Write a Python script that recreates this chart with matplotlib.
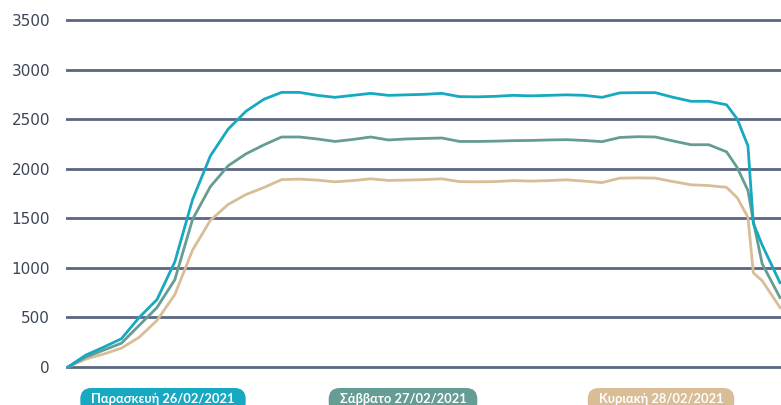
import numpy as np
import matplotlib
matplotlib.use("Agg")
import matplotlib.pyplot as plt
from matplotlib.patches import FancyBboxPatch
from matplotlib.transforms import IdentityTransform

# ============ DATA ============
# x = measurement index (the tail has some in-between readings)
x_pos = list(range(38)) + [37.6, 38.2, 38.5, 39, 40]

fri = [0, 120, 200, 285, 500, 680, 1060, 1690, 2130, 2400,
       2580, 2700, 2770, 2770, 2740, 2720, 2740, 2760, 2740, 2745,
       2750, 2760, 2727, 2725, 2730, 2740, 2735, 2740, 2745, 2740,
       2720, 2765, 2767, 2767, 2720, 2680, 2680, 2645,
       2500, 2230, 1450, 1230, 850]
sat = [0, 100, 170, 240, 420, 600, 880, 1490, 1820, 2030,
       2150, 2240, 2320, 2320, 2300, 2275, 2295, 2320, 2290, 2300,
       2305, 2310, 2275, 2275, 2278, 2283, 2285, 2290, 2293, 2285,
       2273, 2315, 2323, 2320, 2280, 2242, 2242, 2170,
       2010, 1780, 1470, 1040, 700]
sun = [0, 80, 130, 190, 300, 470, 730, 1180, 1480, 1640,
       1740, 1810, 1890, 1895, 1885, 1868, 1880, 1898, 1882, 1885,
       1890, 1898, 1870, 1868, 1870, 1880, 1875, 1880, 1888, 1875,
       1860, 1905, 1908, 1905, 1870, 1838, 1830, 1812,
       1707, 1510, 950, 870, 600]

labels = ["Παρασκευή 26/02/2021", "Σάββατο 27/02/2021", "Κυριακή 28/02/2021"]
colors = ["#17a8c2", "#659c93", "#d8bd97"]
yticks = [0, 500, 1000, 1500, 2000, 2500, 3000, 3500]

# ============ PLOT ============
W, H = 781, 405
fig = plt.figure(figsize=(W / 100, H / 100), dpi=100)
ax = fig.add_axes([66 / W, 25 / H, (W - 66) / W, 370 / H])

for ys, c in zip([sun, sat, fri], colors[::-1]):
    ax.plot(x_pos, ys, color=c, lw=2.0, zorder=3, solid_joinstyle="round")

ax.set_yticks(yticks)
ax.set_xticks([])
ax.grid(axis="y", color="#5b6782", lw=2.0, zorder=1)
ax.set_axisbelow(True)
for s in ax.spines.values():
    s.set_visible(False)
ax.tick_params(axis="y", length=0, pad=11.5, labelsize=11, labelcolor="#3b4658")

# px scale: 17.8 px per step, first point at x=68
ax.set_xlim(-2 / 17.8, 40 + 1 / 17.8)
ppu = 347 / 3500.0
ax.set_ylim(-13 / ppu, 3500 + 10 / ppu)

# legend pills at the bottom (drawn in pixel units)
fig.canvas.draw()
r = fig.canvas.get_renderer()
for lab, c, cx in zip(labels, colors, [163, 403, 661]):
    t = fig.text(cx / W, 6 / H, lab, ha="center", va="center", color="white",
                 fontsize=9.3, fontweight="bold", family="Lato", zorder=5)
    bb = t.get_window_extent(renderer=r)
    pill = FancyBboxPatch((bb.x0 - 11, -8), bb.width + 22, 25,
                          boxstyle="round,pad=0,rounding_size=11",
                          transform=IdentityTransform(), fc=c, ec="none",
                          zorder=4)
    fig.patches.append(pill)

fig.savefig("out.png", dpi=100)
